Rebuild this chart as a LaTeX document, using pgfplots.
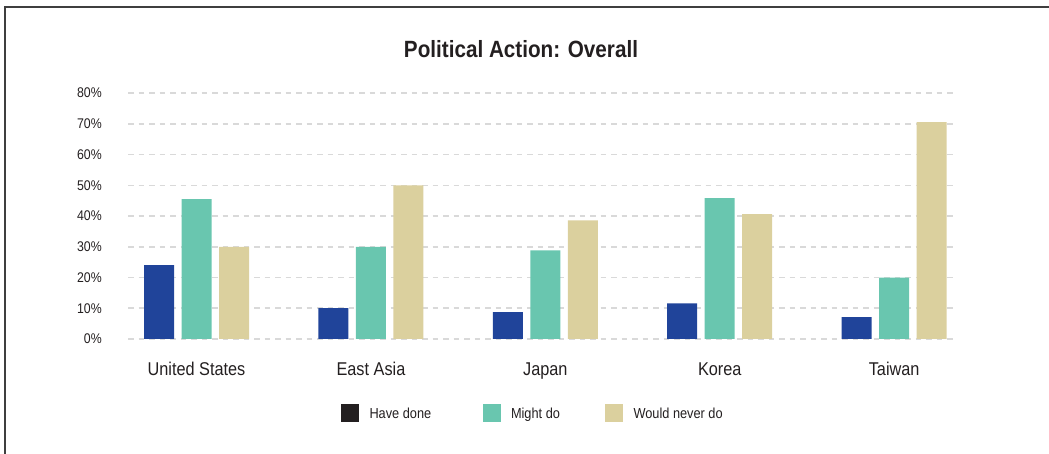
\documentclass[border=0pt]{standalone}
\usepackage{pgfplots}
\pgfplotsset{compat=1.18}
\usepackage{fontspec}
\setmainfont{Liberation Sans}[FakeStretch=0.88]
\definecolor{cBlue}{HTML}{20449A}
\definecolor{cTeal}{HTML}{69C6AF}
\definecolor{cTan}{HTML}{DBD09E}
\definecolor{cText}{HTML}{231F20}
\definecolor{cGrid}{HTML}{D9D9D9}
\definecolor{cFrame}{HTML}{3F3F3F}
\begin{document}
\begin{tikzpicture}
\path[use as bounding box] (0,0) rectangle (1049bp,454bp);
\draw[line width=1.5bp, cFrame] (5bp,0bp) -- (5bp,447bp) -- (1049bp,447bp);
\node[text=cText, font=\fontsize{23.5bp}{28bp}\selectfont\bfseries] at (521bp,405bp) {Political Action: Overall};
\begin{axis}[
  at={(128bp,115bp)}, anchor=south west, scale only axis,
  width=827bp, height=246bp,
  xmin=-0.393, xmax=4.349, ymin=0, ymax=80,
  axis line style={draw=none}, major tick length=0pt,
  xtick={0,1,2,3,4},
  xticklabels={United States, East Asia, Japan, Korea, Taiwan},
  xticklabel style={anchor=base, yshift=-37bp, text=cText, font=\fontsize{18.5bp}{22bp}\selectfont},
  ytick={0,10,20,30,40,50,60,70,80},
  yticklabels={0\%,10\%,20\%,30\%,40\%,50\%,60\%,70\%,80\%},
  yticklabel style={anchor=east, inner sep=0pt, xshift=-26bp, text=cText, font=\fontsize{14bp}{17bp}\selectfont},
  ymajorgrids, grid style={cGrid, line width=1.5bp, dash pattern=on 5.5bp off 5bp},
  ybar, bar width=30bp,
  legend columns=3,
  legend image code/.code={\fill[#1] (0bp,-9bp) rectangle (18bp,9bp);},
  legend style={at={(0.2576,-0.3008)}, anchor=west, draw=none, fill=none,
    inner sep=0pt, outer sep=0pt, column sep=0pt,
    /tikz/every odd column/.append style={column sep=10.5bp},
    nodes={inner sep=0pt, text=cText, text height=10.5bp, text depth=0bp, font=\fontsize{14.5bp}{17bp}\selectfont}},
]
\addplot[fill=cBlue, draw=none, bar shift=-37.5bp, forget plot] coordinates {(0,24) (1,10) (2,8.7) (3,11.6) (4,7.1)};
\addplot[fill=cTeal, draw=none, bar shift=0bp, forget plot] coordinates {(0,45.5) (1,30) (2,28.8) (3,45.8) (4,20)};
\addplot[fill=cTan, draw=none, bar shift=37.5bp, forget plot] coordinates {(0,30) (1,50) (2,38.6) (3,40.6) (4,70.5)};
\addlegendimage{fill=cText, draw=none}
\addlegendimage{fill=cTeal, draw=none}
\addlegendimage{fill=cTan, draw=none}
\legend{\makebox[113bp][l]{Have done}, \makebox[94bp][l]{Might do}, Would never do}
\end{axis}
\end{tikzpicture}
\end{document}
